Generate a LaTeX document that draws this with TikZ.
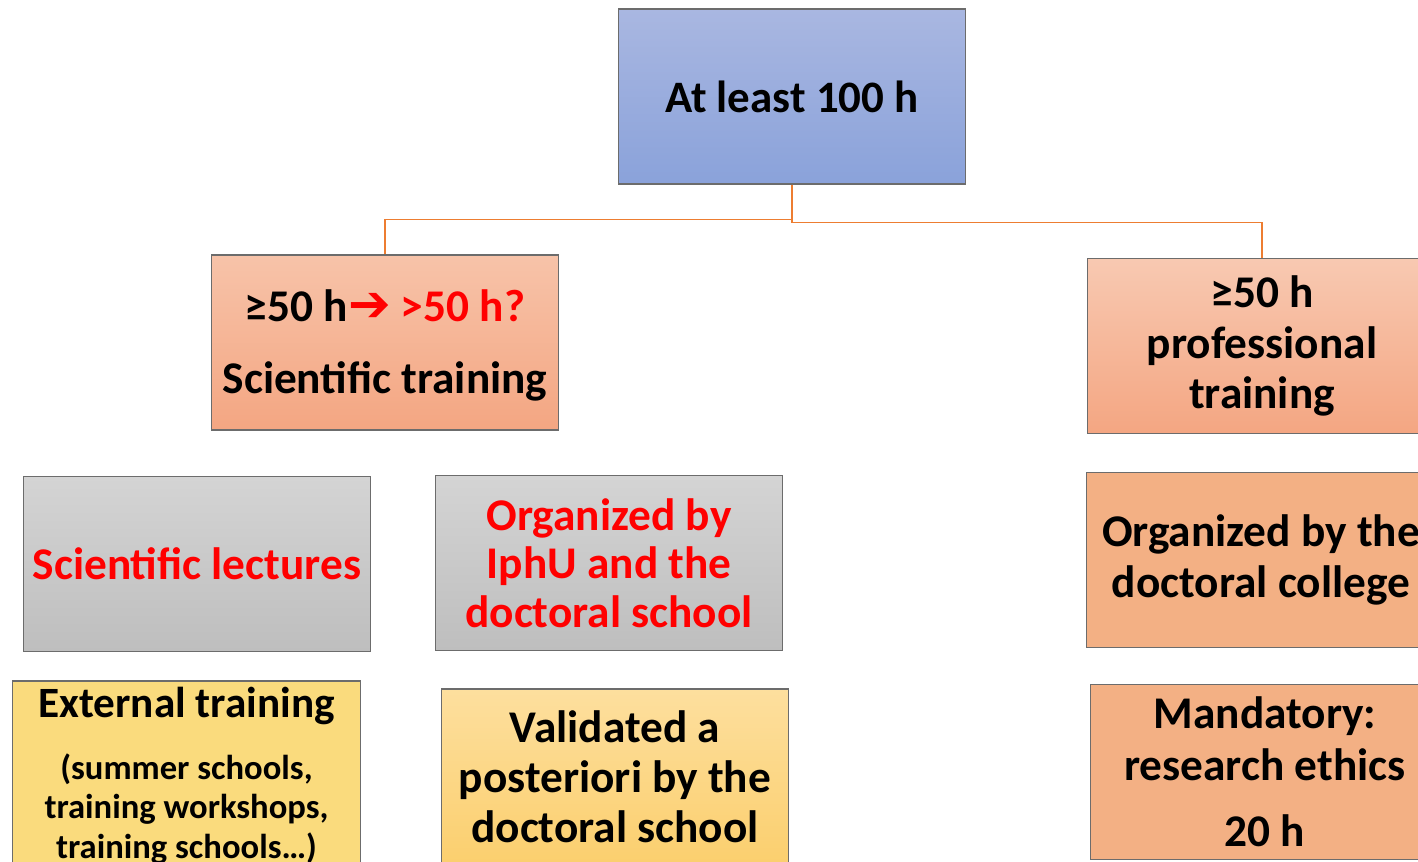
\documentclass[tikz,border=0pt]{standalone}
\usepackage{fontspec}
\setmainfont{Carlito}
\newfontfamily\symfont{DejaVu Sans}
\usetikzlibrary{positioning}
\definecolor{BlueTop}{HTML}{A9B7E1}
\definecolor{BlueBot}{HTML}{8AA2DA}
\definecolor{SalmTop}{HTML}{F7C3A9}
\definecolor{SalmBot}{HTML}{F4A682}
\definecolor{GreyTop}{HTML}{D4D4D4}
\definecolor{GreyBot}{HTML}{BEBEBE}
\definecolor{PeachFill}{HTML}{F3B084}
\definecolor{YellFill}{HTML}{FADB7D}
\definecolor{GoldTop}{HTML}{FDDF9E}
\definecolor{GoldBot}{HTML}{FBCF6E}
\definecolor{LinkCol}{HTML}{ED7D31}
\newcommand{\bigtxt}{\bfseries\fontsize{25.8}{28}\selectfont}
\newcommand{\smalltxt}{\fontsize{19.7}{22.5}\selectfont}

\begin{document}
\begin{tikzpicture}[x=0.02cm,y=-0.02cm,
  box/.style={draw=gray!85!black, line width=0.6pt, minimum width=6.96cm,
    minimum height=3.5cm, align=center, inner sep=0pt, font=\bigtxt},
  link/.style={draw=LinkCol, line width=1.1pt}]
  \useasboundingbox (0,0) rectangle (1418,862);
  \clip (0,0) rectangle (1418,862);
  \node[box, top color=BlueTop, bottom color=BlueBot,
    font=\bfseries\fontsize{25.6}{30}\selectfont]
    (total) at (792,96.5) {At least 100 h};
  \node[box, top color=SalmTop, bottom color=SalmBot]
    (sci) at (385,342.5) {\raisebox{0pt}[21pt][0pt]{}≥50 h{\color{red}\symfont\bfseries\fontsize{29}{28}\selectfont ➔}
    {\color{red}>50 h?}\\[13pt]
    Scientific training};
  \node[box, top color=SalmTop!90!white, bottom color=SalmBot, minimum width=7cm,
    font=\bfseries\fontsize{25.8}{28.5}\selectfont]
    (prof) at (1262,346) {≥50 h\\professional\\training};
  \node[box, top color=GreyTop, bottom color=GreyBot, text=red]
    (lect) at (197,564) {Scientific lectures};
  \node[box, top color=GreyTop, bottom color=GreyBot, text=red,
    font=\bfseries\fontsize{25.8}{27.6}\selectfont]
    (iphu) at (609,563) {Organized by\\IphU and the\\doctoral school};
  \node[box, fill=PeachFill, minimum width=7cm,
    font=\bfseries\fontsize{25.8}{29}\selectfont]
    (college) at (1261,560) {Organized by the\\doctoral college};
  \node[box, fill=YellFill, minimum height=3.8cm,
    font=\bfseries\fontsize{24.6}{22.5}\selectfont]
    (ext) at (186.5,776) {External training\\[12.5pt]
    \smalltxt (summer schools,\\\smalltxt training workshops,\\\smalltxt training schools…)};
  \node[box, top color=GoldTop, bottom color=GoldBot,
    font=\bfseries\fontsize{25.8}{28.5}\selectfont]
    (valid) at (615,776.5) {Validated a\\posteriori by the\\doctoral school};
  \node[box, fill=PeachFill, minimum width=7cm,
    font=\bfseries\fontsize{25.8}{29.5}\selectfont]
    (ethics) at (1265,772) {Mandatory:\\research ethics\\[8pt]20 h};
  \draw[link] (total.south) -- ++(0,35) -| (sci.north);
  \draw[link] (total.south) -- ++(0,38) -| (prof.north);
\end{tikzpicture}
\end{document}
